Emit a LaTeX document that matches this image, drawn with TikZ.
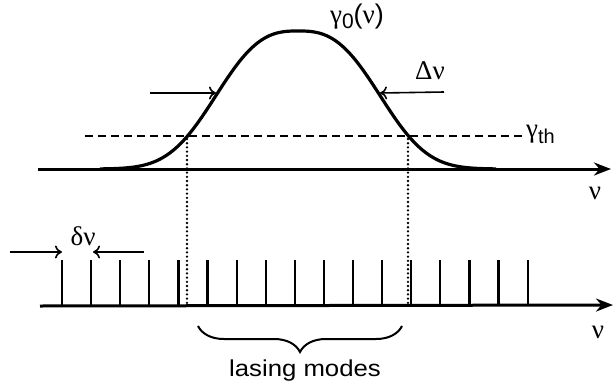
\documentclass[tikz,border=0pt]{standalone}
\usepackage{fontspec}
\setmainfont{Liberation Sans}
\newfontfamily\gr{Liberation Serif}
\usetikzlibrary{arrows.meta,decorations.pathreplacing}
\begin{document}
\begin{tikzpicture}[x=1pt,y=-1pt,
  axis/.style={line width=3pt,-{Stealth[length=17pt,width=13pt]}},
  curvestyle/.style={line width=3.2pt},
  modeline/.style={line width=2.2pt},
  marker/.style={line width=1.6pt,-{To[length=7pt,width=13pt]}},
  thr/.style={line width=1.6pt,dash pattern=on 8pt off 5pt},
  guide/.style={line width=2.6pt,line cap=round,dash pattern=on 0pt off 4.2pt},
  lbl/.style={inner sep=0pt,font=\fontsize{27}{30}\selectfont},
  bigtext/.style={inner sep=0pt,font=\fontsize{23}{26}\selectfont,xscale=1.12}]
\useasboundingbox (0,0) rectangle (614,389);
\fill[white] (0,0) rectangle (614,389);
% top panel
\coordinate (a1s) at (38,169);
\coordinate (a1e) at (611,169);
\draw[axis] (a1s) -- (a1e);
\draw[curvestyle,domain=100:496,samples=160,smooth]
  plot (\x,{169-138*exp(-1*((abs(\x-298)+0.01)/97)^2.75)});
\coordinate (t1) at (85,136);
\coordinate (t2) at (522,136);
\draw[thr] (t1) -- (t2);
\node[lbl,anchor=west] (gth) at (526,134) {{\gr γ}\raisebox{-6pt}{\fontsize{20}{20}\selectfont th}};
\node[lbl] (g0) at (357,17) {{\gr γ}\raisebox{-5pt}{\fontsize{21}{21}\selectfont 0}({\gr ν})};
\node[lbl] (dnu) at (430,71) {{\gr Δν}};
\node[lbl] (nu1) at (595,193) {{\gr ν}};
\coordinate (l1) at (150,93);
\coordinate (l2) at (216,93);
\coordinate (r1) at (444,92);
\coordinate (r2) at (380,93);
\draw[marker] (l1) -- (l2);
\draw[marker] (r1) -- (r2);
% guides
\coordinate (d1a) at (187,139);
\coordinate (d1b) at (187,306);
\coordinate (d2a) at (408,139);
\coordinate (d2b) at (408,306);
\draw[guide] (d1a) -- (d1b);
\draw[guide] (d2a) -- (d2b);
% bottom panel
\foreach \i in {0,...,16}
  \draw[modeline] ({62+29.1*\i},260) -- ({62+29.1*\i},306);
\coordinate (a2s) at (40,306);
\coordinate (a2e) at (613,305);
\draw[axis] (a2s) -- (a2e);
\node[lbl] (nu2) at (598,332) {{\gr ν}};
\node[lbl] (dsnu) at (83,236) {{\gr δν}};
\coordinate (m1) at (10,252);
\coordinate (m2) at (62,252);
\coordinate (m3) at (144,252);
\coordinate (m4) at (93,252);
\draw[marker] (m1) -- (m2);
\draw[marker] (m3) -- (m4);
\coordinate (b1) at (402,326);
\coordinate (b2) at (198,326);
\draw[line width=2pt,decorate,decoration={brace,amplitude=26pt}] (b1) -- (b2);
\node[bigtext] (lm) at (305,371) {lasing modes};
\end{tikzpicture}
\end{document}
